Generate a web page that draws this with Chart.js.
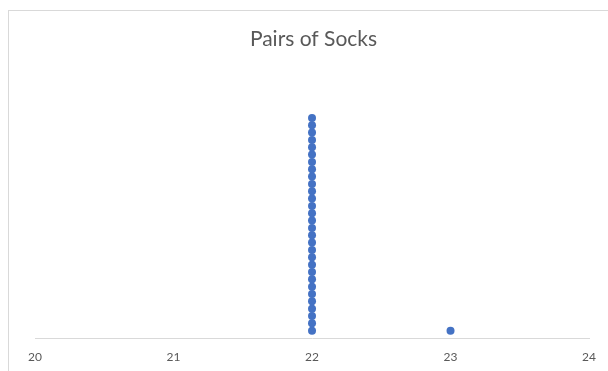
<!DOCTYPE html>
<html>
<head>
<meta charset="utf-8">
<script src="https://cdn.jsdelivr.net/npm/chart.js@4"></script>
<style>
  html, body { margin: 0; padding: 0; background: #fff; }
  #wrap { position: relative; width: 608px; height: 371px; overflow: hidden; }
  #frame { position: absolute; left: 8px; top: 10px; width: 640px; height: 420px; border: 1px solid #d9d9d9; }
  #chart { position: absolute; left: 0; top: 0; }
</style>
</head>
<body>
<div id="wrap">
  <div id="frame"></div>
  <canvas id="chart" width="608" height="371"></canvas>
</div>
<script>
// ── Data ─────────────────────────────────────────────────────────────────────
// one entry per person: pairs of socks owned
const pairs = [
  22, 22, 22, 22, 22, 22, 22, 22, 22, 22,
  22, 22, 22, 22, 22, 22, 22, 22, 22, 22,
  22, 22, 22, 22, 22, 22, 22, 22, 22, 22,
  23,
];
const xTicks = [20, 21, 22, 23, 24];
const yMax = 35;

// stack the dots: each repeat of a value sits one row higher
function stackDots(values) {
  const seen = {};
  return values.map(v => {
    seen[v] = (seen[v] || 0) + 1;
    return { x: v, y: seen[v] };
  });
}

const ctx = document.getElementById('chart').getContext('2d');
new Chart(ctx, {
  type: 'scatter',
  data: {
    datasets: [{
      label: 'Pairs of Socks',
      data: stackDots(pairs),
      backgroundColor: '#4472C4',
      borderWidth: 0,
      pointRadius: 4,
      pointHoverRadius: 4,
    }],
  },
  options: {
    responsive: false,
    animation: false,
    layout: { padding: { left: 35, right: 16, bottom: 0 } },
    plugins: {
      legend: { display: false },
      tooltip: { enabled: false },
      title: {
        display: true,
        text: 'Pairs of Socks',
        color: '#595959',
        font: { family: 'Lato', size: 21, weight: 'normal' },
        padding: { top: 27, bottom: 29 },
      },
    },
    scales: {
      x: {
        type: 'linear',
        min: xTicks[0],
        max: xTicks[xTicks.length - 1],
        afterBuildTicks: s => { s.ticks = xTicks.map(v => ({ value: v })); },
        afterFit: s => { s.height = 33; },
        grid: { display: false, drawTicks: false },
        border: { display: true, color: '#d9d9d9', width: 1 },
        ticks: { color: '#595959', font: { family: 'Lato', size: 12 }, padding: 12 },
      },
      y: { display: false, min: 0, max: yMax },
    },
  },
});
</script>
</body>
</html>
